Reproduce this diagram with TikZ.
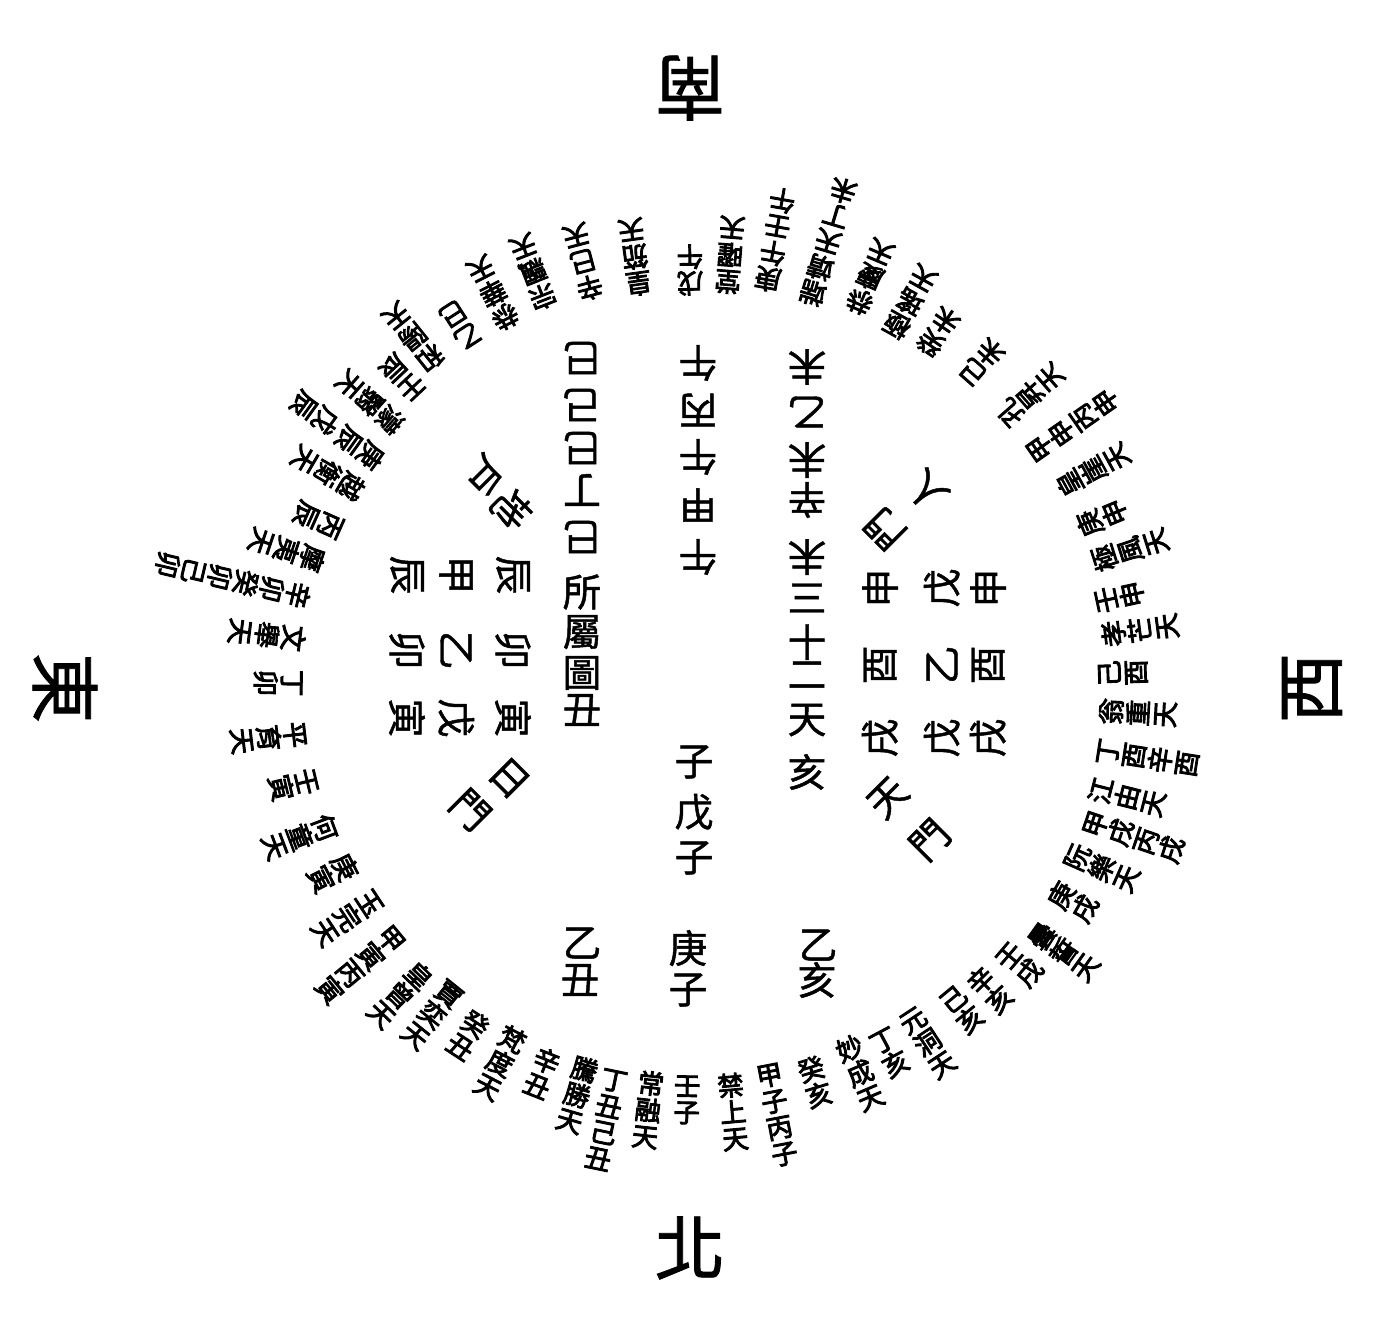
\documentclass[tikz,border=0pt]{standalone}
\usepackage{fontspec}
\newfontfamily\cjk[FakeBold=1.2]{Noto Sans CJK TC}
\newfontfamily\cjkbold[FakeBold=3.5]{Noto Sans CJK TC}
\makeatletter
% one character per line, read from the inner end outwards
\newcommand\colprep[1]{\edef\cc@list{#1}\let\colout\@empty
  \expandafter\cc@loop\expandafter{\cc@list}}
\def\cc@loop#1{\@tfor\cc@c:=#1\do{%
  \ifx\colout\@empty\edef\colout{\cc@c}%
  \else\edef\colout{\unexpanded\expandafter{\colout}\noexpand\\\cc@c}\fi}}
\makeatother
\begin{document}
\begin{tikzpicture}[x=0.02cm, y=-0.02cm,
  ringentry/.style={font=\cjkbold\fontsize{15}{15.2}\selectfont, align=center, inner sep=0pt},
  hubchar/.style={font=\cjk\fontsize{22}{22}\selectfont, inner sep=0pt},
  quarterchar/.style={font=\cjk\fontsize{40}{40}\selectfont, inner sep=0pt}]
\useasboundingbox (0,0) rectangle (1393,1329);
\coordinate (hub) at (695,688);
% the four quarters
\node[quarterchar, rotate=180] (south) at (690,88) {南};
\node[quarterchar] (north) at (690,1248) {北};
\node[quarterchar, rotate=-90] (east) at (65,688) {東};
\node[quarterchar, rotate=90] (west) at (1312,688) {西};
% outer ring, every column faces the hub
\foreach \x/\y/\t [count=\i] in {
  542/1073/辛丑, 577/1095/騰勝天, 606/1120/丁丑己丑, 648/1110/常融天,
  687/1100/壬子, 733/1112/禁上天, 777/1115/甲子丙子, 815/1082/癸亥,
  860/1073/妙成天, 890/1053/丁亥, 928/1043/元洞天, 962/1010/己亥,
  990/990/辛亥, 1020/965/壬戌, 1064/952/曇誓天, 1073/902/庚戌,
  1102/868/阮樂天, 1134/837/甲戌丙戌, 1127/797/江由天, 1148/758/丁酉辛酉,
  1138/713/翁重天, 1123/673/己酉, 1140/630/孝芒天, 1120/597/壬申,
  1130/550/極風天, 1102/518/庚申, 1093/470/皇崖天, 1073/425/甲申丙申,
  1030/395/孔昇天, 982/362/己未, 938/332/癸未, 910/302/極瑤天,
  870/277/恭慶天, 828/242/端靖天丁未, 775/240/庚午壬午, 730/255/堂曜天,
  690/270/戊午, 635/257/皇笳天, 583/262/辛巳天, 533/272/宗飄天,
  493/293/恭華天, 460/325/乙巳, 413/337/和陽天, 402/377/壬辰,
  370/402/濛翳天, 315/413/戊辰, 360/448/庚辰, 328/473/越衡天,
  318/520/丙辰, 287/550/摩夷天, 233/580/辛卯癸卯己卯, 267/635/文舉天,
  278/683/丁卯, 268/738/平育天, 293/785/壬寅, 300/837/何童天,
  333/873/庚寅, 347/918/玉完天, 360/965/甲寅丙寅, 400/995/皇曾天,
  432/1015/賈奕天, 468/1035/癸丑, 500/1063/梵度天} {
  \pgfmathsetmacro\rot{atan2(688-\y,\x-695)+90}
  \colprep{\t}
  \node[ringentry, rotate=\rot] (r\i) at (\x,\y) {\colout};
}
% middle columns
\foreach \c/\y [count=\i] in {巳/358,己/405,巳/448,丁/490,巳/537}
  \node[hubchar, rotate=180] (a\i) at (582,\y) {\c};
\foreach \c/\y [count=\i] in {所/592,屬/632,圖/673,丑/710}
  \node[hubchar] (t\i) at (582,\y) {\c};
\foreach \c/\y [count=\i] in {午/363,丙/410,午/457,甲/505,午/557}
  \node[hubchar, rotate=180] (b\i) at (698,\y) {\c};
\foreach \c/\y [count=\i] in {子/762,戊/812,子/858}
  \node[hubchar] (z\i) at (694,\y) {\c};
\foreach \c/\y [count=\i] in {未/367,乙/412,未/460,辛/500,未/557}
  \node[hubchar, rotate=180] (c\i) at (807,\y) {\c};
\foreach \c/\y [count=\i] in {三/598,十/642,二/675,天/720,亥/772}
  \node[hubchar] (d\i) at (807,\y) {\c};
\node[hubchar] (yi1) at (582,943) {乙};
\node[hubchar] (chou) at (580,980) {丑};
\node[hubchar] (geng) at (688,948) {庚};
\node[hubchar] (zi) at (688,990) {子};
\node[hubchar] (yi2) at (818,945) {乙};
\node[hubchar] (hai) at (817,980) {亥};
% east block and west block
\foreach \y/\p/\q [count=\i] in {575/辰/甲, 650/卯/乙, 718/寅/戊} {
  \node[hubchar, rotate=-90] (e\i) at (513,\y) {\p};
  \node[hubchar, rotate=-90] (ef\i) at (456,\y) {\q};
  \node[hubchar, rotate=-90] (eg\i) at (407,\y) {\p};
}
\foreach \y/\p/\q [count=\i] in {588/申/戊, 665/酉/乙, 738/戌/戊} {
  \node[hubchar, rotate=90] (w\i) at (880,\y) {\p};
  \node[hubchar, rotate=90] (wf\i) at (942,\y) {\q};
  \node[hubchar, rotate=90] (wg\i) at (988,\y) {\p};
}
% the four gates
\node[hubchar, rotate=-135] (di) at (512,509) {地};
\node[hubchar, rotate=-135] (hu) at (483,476) {戶};
\node[hubchar, rotate=-45] (ri) at (509,778) {日};
\node[hubchar, rotate=-45] (rimen) at (470,810) {門};
\node[hubchar, rotate=135] (renmen) at (885,529) {門};
\node[hubchar, rotate=135] (ren) at (927,491) {人};
\node[hubchar, rotate=45] (tian) at (888,798) {天};
\node[hubchar, rotate=45] (tianmen) at (930,840) {門};
\end{tikzpicture}
\end{document}
